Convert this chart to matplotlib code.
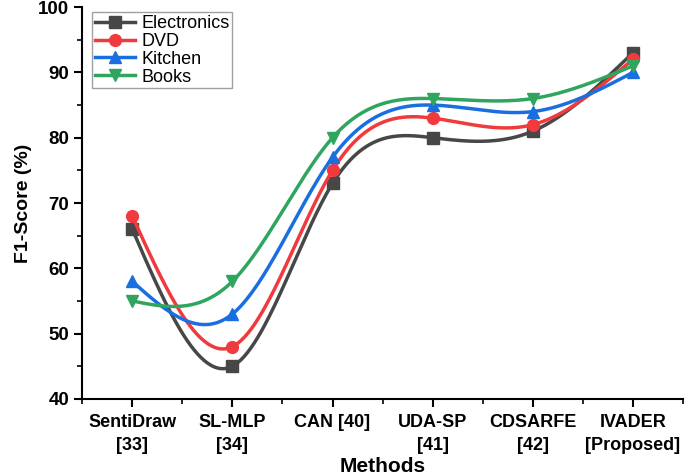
import numpy as np
import matplotlib.pyplot as plt

plt.rcParams['font.family'] = ['Liberation Sans', 'DejaVu Sans']

methods = ['SentiDraw\n[33]', 'SL-MLP\n[34]', 'CAN [40]', 'UDA-SP\n[41]', 'CDSARFE\n[42]', 'IVADER\n[Proposed]']
electronics = [66, 45, 73, 80, 81, 93]
dvd = [68, 48, 75, 83, 82, 92]
kitchen = [58, 53, 77, 85, 84, 90]
books = [55, 58, 80, 86, 86, 91]


def natural_spline(x, y, n=300):
    # natural cubic spline used only to draw the smooth connecting line
    x = np.asarray(x, float)
    y = np.asarray(y, float)
    k = len(x)
    h = np.diff(x)
    A = np.zeros((k, k))
    b = np.zeros(k)
    A[0, 0] = A[-1, -1] = 1
    for i in range(1, k - 1):
        A[i, i - 1] = h[i - 1]
        A[i, i] = 2 * (h[i - 1] + h[i])
        A[i, i + 1] = h[i]
        b[i] = 6 * ((y[i + 1] - y[i]) / h[i] - (y[i] - y[i - 1]) / h[i - 1])
    M = np.linalg.solve(A, b)
    xs = np.linspace(x[0], x[-1], n)
    idx = np.clip(np.searchsorted(x, xs) - 1, 0, k - 2)
    x0, x1 = x[idx], x[idx + 1]
    hh = x1 - x0
    t0, t1 = x1 - xs, xs - x0
    ys = (M[idx] * t0**3 + M[idx + 1] * t1**3) / (6 * hh) \
        + (y[idx] / hh - M[idx] * hh / 6) * t0 \
        + (y[idx + 1] / hh - M[idx + 1] * hh / 6) * t1
    return xs, ys


x = np.arange(len(methods))
series = [
    ('Electronics', electronics, '#474747', 's'),
    ('DVD', dvd, '#f03a3d', 'o'),
    ('Kitchen', kitchen, '#1a6fe0', '^'),
    ('Books', books, '#2fa560', 'v'),
]

fig, ax = plt.subplots(figsize=(6.85, 4.76), dpi=100)
fig.subplots_adjust(left=0.12, right=0.997, top=0.985, bottom=0.162)

for name, vals, col, mk in series:
    xs, ys = natural_spline(x, vals)
    ax.plot(xs, ys, color=col, lw=2.5)
    ax.plot(x, vals, linestyle='none', marker=mk, color=col, markersize=8.5)
    ax.plot([], [], color=col, lw=2.5, marker=mk, markersize=8.5, label=name)

ax.set_xlim(-0.5, 5.5)
ax.set_ylim(40, 100)
ax.set_xticks(x)
ax.set_xticklabels(methods, fontsize=13, fontweight='bold', linespacing=1.45)
ax.set_xticks(np.arange(-0.5, 5.6, 1), minor=True)
ax.set_yticks(np.arange(40, 101, 10))
ax.set_yticks(np.arange(45, 100, 10), minor=True)
ax.tick_params(axis='y', labelsize=13.5)
for lab in ax.get_yticklabels():
    lab.set_fontweight('bold')
ax.tick_params(which='major', length=6, width=1.5)
ax.tick_params(axis='x', which='major', pad=5)
ax.tick_params(which='minor', length=3.5, width=1.2)
for s in ['top', 'right']:
    ax.spines[s].set_visible(False)
for s in ['left', 'bottom']:
    ax.spines[s].set_linewidth(1.5)

ax.set_xlabel('Methods', fontsize=15, fontweight='bold', labelpad=2)
ax.set_ylabel('F1-Score (%)', fontsize=14, fontweight='bold')

leg = ax.legend(loc='upper left', bbox_to_anchor=(0.017, 0.987), borderaxespad=0,
                fontsize=13, fancybox=False, edgecolor='#888888', handlelength=2.2,
                borderpad=0.15, labelspacing=0.05, handletextpad=0.35)
leg.get_frame().set_linewidth(1.0)

fig.savefig('out.png', dpi=100)
